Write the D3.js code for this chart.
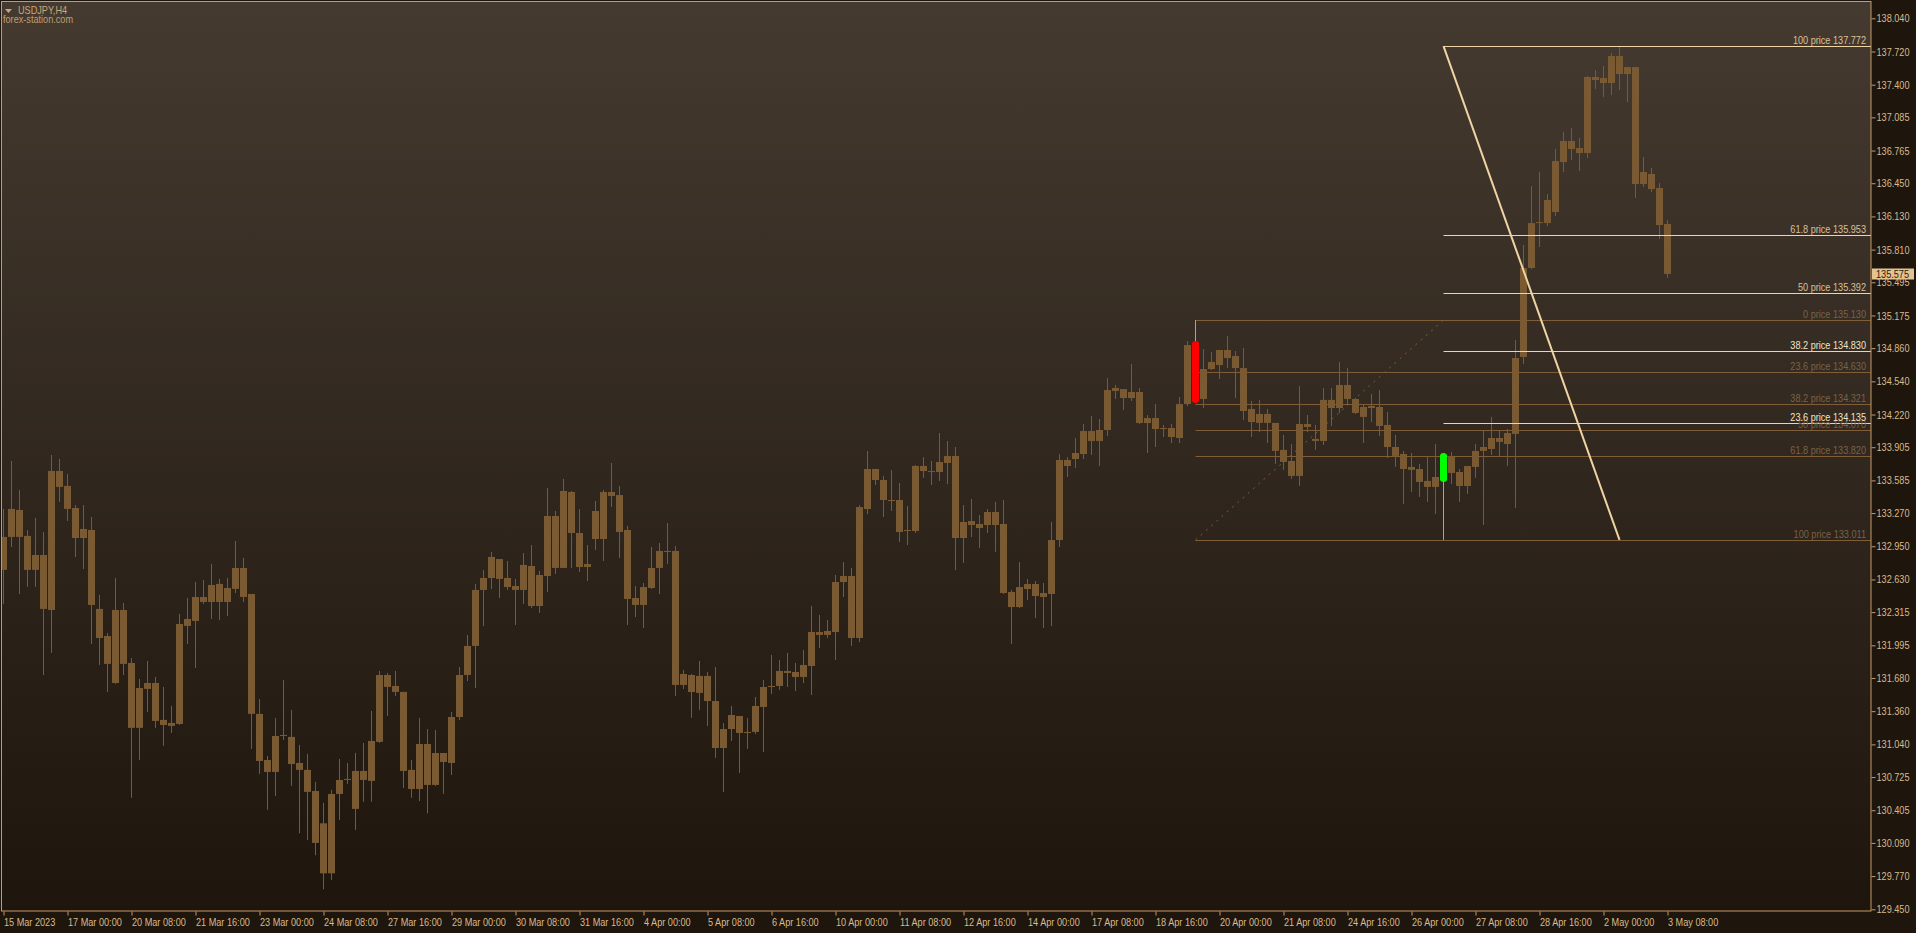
<!DOCTYPE html>
<html>
<head>
<meta charset="utf-8">
<script src="https://cdn.jsdelivr.net/npm/d3@7"></script>
<style>
html, body { margin: 0; padding: 0; background: #1e150d; overflow: hidden; }
svg { display: block; }
text { font-family: "Liberation Sans", Arial, sans-serif; font-size: 11px; }
</style>
</head>
<body>
<svg id="chart"></svg>
<script>
// bar time labels (one every 8 H4 bars)
var timeLabels = ["15 Mar 2023","17 Mar 00:00","20 Mar 08:00","21 Mar 16:00","23 Mar 00:00","24 Mar 08:00",
  "27 Mar 16:00","29 Mar 00:00","30 Mar 08:00","31 Mar 16:00","4 Apr 00:00","5 Apr 08:00","6 Apr 16:00",
  "10 Apr 00:00","11 Apr 08:00","12 Apr 16:00","14 Apr 00:00","17 Apr 08:00","18 Apr 16:00","20 Apr 00:00",
  "21 Apr 08:00","24 Apr 16:00","26 Apr 00:00","27 Apr 08:00","28 Apr 16:00","2 May 00:00","3 May 08:00"];
var barsPerLabel = 8;

var priceTicks = [138.040,137.720,137.400,137.085,136.765,136.450,136.130,135.810,135.495,135.175,134.860,
  134.540,134.220,133.905,133.585,133.270,132.950,132.630,132.315,131.995,131.680,131.360,131.040,130.725,
  130.405,130.090,129.770,129.450];

var opens = [132.722,133.040,133.300,133.050,132.722,132.866,132.336,133.676,133.532,133.319,133.030,133.107,
  132.346,132.085,131.632,132.336,131.825,131.199,131.575,131.632,131.276,131.218,131.237,132.182,132.230,
  132.461,132.413,132.587,132.413,132.539,132.741,132.490,131.334,130.890,130.774,131.121,131.112,130.861,
  130.794,130.591,130.279,129.797,130.562,130.697,130.418,130.784,130.688,131.064,131.709,131.603,131.546,
  130.794,130.610,131.044,130.649,130.957,130.861,131.304,131.709,131.989,132.529,132.644,132.827,132.644,
  132.567,132.529,132.760,132.374,132.663,133.242,132.741,133.473,133.078,132.750,133.020,133.020,133.473,
  133.444,133.107,132.451,132.384,132.548,132.741,132.905,132.905,131.613,131.709,131.536,131.700,131.458,
  131.005,131.188,131.314,131.150,131.160,131.401,131.593,131.603,131.748,131.738,131.690,131.796,132.124,
  132.095,132.123,132.605,132.663,132.066,133.309,133.695,133.589,133.396,133.396,133.097,133.097,133.724,
  133.675,133.666,133.753,133.820,133.030,133.193,133.165,133.155,133.280,133.165,132.509,132.364,132.538,
  132.586,132.499,132.490,133.010,133.782,133.791,133.839,134.061,133.965,134.071,134.447,134.466,134.379,
  134.437,134.138,134.186,134.080,134.090,133.994,134.321,134.909,134.370,134.659,134.697,134.842,134.784,
  134.668,134.274,134.139,134.226,134.139,133.879,133.772,133.628,134.129,133.985,133.965,134.361,134.283,
  134.505,134.370,134.293,134.283,134.293,134.120,133.907,133.840,133.715,133.695,133.580,133.522,133.589,
  133.821,133.666,133.531,133.715,133.869,133.888,133.994,133.936,134.033,134.775,135.633,136.066,136.066,
  136.172,136.654,136.857,136.789,136.741,137.474,137.464,137.416,137.676,137.503,137.570,136.442,136.539,
  136.404,136.057];
var highs = [133.310,133.773,133.493,133.107,133.223,133.088,133.830,133.792,133.647,133.348,133.348,133.233,
  132.481,132.114,132.645,132.404,131.873,131.671,131.844,131.690,131.594,131.411,132.298,132.452,132.606,
  132.625,132.780,132.635,132.645,133.001,132.837,132.490,131.478,130.929,131.295,131.661,131.372,131.035,
  130.948,130.678,130.476,130.601,130.900,130.861,130.958,131.054,131.362,131.748,131.729,131.748,131.546,
  130.890,131.295,131.188,131.179,130.957,131.352,131.786,132.095,132.586,132.721,132.895,132.827,132.808,
  132.635,132.885,132.962,132.712,133.512,133.290,133.599,133.483,133.309,132.962,133.387,133.493,133.753,
  133.531,133.146,132.567,132.596,132.943,132.982,133.174,132.953,131.757,131.719,131.844,131.738,131.786,
  131.246,131.410,131.314,131.295,131.497,131.661,131.902,131.854,131.921,131.825,131.950,132.374,132.288,
  132.239,132.673,132.798,132.740,133.348,133.868,133.695,133.627,133.685,133.560,133.338,133.733,133.810,
  133.772,134.042,133.965,133.907,133.348,133.406,133.251,133.309,133.377,133.396,132.528,132.798,132.634,
  132.615,132.596,133.184,133.839,133.810,133.994,134.129,134.206,134.177,134.572,134.505,134.466,134.707,
  134.476,134.215,134.321,134.119,134.129,134.389,134.929,135.130,134.852,134.823,134.842,134.977,134.832,
  134.861,134.351,134.361,134.274,134.139,134.023,133.936,134.495,134.216,134.120,134.476,134.476,134.727,
  134.669,134.380,134.312,134.418,134.457,134.245,134.023,133.869,133.850,133.744,133.811,133.936,133.850,
  133.859,133.695,133.724,133.936,134.062,134.197,134.062,134.081,134.939,135.855,136.423,136.558,136.346,
  136.780,136.944,136.982,136.886,137.484,137.541,137.580,137.705,137.772,137.570,137.570,136.703,136.597,
  136.452,136.095];
var lows = [132.394,132.943,132.490,132.558,132.558,131.709,131.922,133.377,133.194,132.847,132.731,132.008,
  131.806,131.546,131.623,131.709,130.524,130.890,131.353,131.199,131.025,131.150,131.227,132.008,131.777,
  132.394,132.249,132.240,132.278,132.500,132.413,130.996,130.755,130.408,130.543,131.083,130.639,130.183,
  130.119,129.971,129.643,129.733,130.312,130.659,130.215,130.485,130.488,131.054,131.314,131.507,130.620,
  130.524,130.494,130.375,130.639,130.562,130.745,131.275,131.651,131.584,132.181,132.538,132.451,132.529,
  132.191,132.394,132.355,132.307,132.509,132.683,132.741,132.741,132.702,132.615,132.914,132.808,133.329,
  132.837,132.191,132.268,132.162,132.538,132.490,132.779,131.507,131.574,131.295,131.372,131.217,130.909,
  130.581,131.073,130.764,130.996,131.140,130.967,131.526,131.565,131.593,131.555,131.632,131.516,131.969,
  132.066,131.853,132.461,131.988,132.027,133.261,133.541,133.232,133.290,132.991,132.962,133.078,133.608,
  133.541,133.579,133.550,132.721,132.789,133.039,132.933,133.078,132.895,132.490,132.008,132.355,132.432,
  132.258,132.162,132.181,132.943,133.618,133.704,133.791,133.830,133.724,134.013,134.370,134.264,134.350,
  134.129,133.849,133.907,134.003,133.945,133.945,134.302,134.330,134.283,134.649,134.562,134.668,134.379,
  134.167,134.004,134.052,133.946,133.744,133.686,133.599,133.531,134.052,133.879,133.927,134.110,134.235,
  134.322,134.226,133.946,134.148,134.013,133.801,133.715,133.358,133.474,133.425,133.377,133.262,133.011,
  133.551,133.377,133.454,133.609,133.155,133.830,133.821,133.724,133.319,134.708,135.620,135.835,136.037,
  136.134,136.558,136.674,136.568,136.693,137.358,137.281,137.300,137.349,137.233,136.307,136.413,136.365,
  135.912,135.536];
var closes = [133.040,133.310,133.040,132.722,132.866,132.346,133.676,133.522,133.310,133.030,133.117,132.384,
  132.066,131.816,132.336,131.816,131.199,131.584,131.632,131.266,131.227,131.247,132.201,132.249,132.461,
  132.413,132.577,132.413,132.548,132.741,132.461,131.334,130.880,130.774,131.121,131.131,130.851,130.794,
  130.582,130.090,129.797,130.562,130.697,130.707,130.784,130.697,131.073,131.709,131.594,131.546,130.784,
  130.610,131.044,130.649,130.957,130.870,131.304,131.709,131.989,132.529,132.644,132.847,132.635,132.557,
  132.529,132.770,132.374,132.673,133.242,132.741,133.483,133.078,132.750,132.779,133.290,133.473,133.435,
  133.088,132.442,132.384,132.557,132.741,132.905,132.895,131.613,131.719,131.545,131.700,131.458,131.005,
  131.188,131.323,131.150,131.160,131.410,131.593,131.603,131.748,131.728,131.690,131.805,132.124,132.095,
  132.133,132.605,132.663,132.066,133.328,133.695,133.589,133.396,133.386,133.087,133.107,133.724,133.675,
  133.666,133.762,133.820,133.030,133.184,133.155,133.126,133.280,133.155,132.499,132.364,132.557,132.586,
  132.470,132.461,133.010,133.782,133.724,133.849,134.061,133.965,134.071,134.456,134.476,134.379,134.437,
  134.138,134.186,134.080,134.090,134.003,134.321,134.890,134.350,134.659,134.726,134.842,134.765,134.668,
  134.254,134.148,134.226,134.139,133.869,133.763,133.628,134.129,134.100,133.965,134.361,134.283,134.505,
  134.370,134.235,134.197,134.303,134.110,133.907,133.821,133.695,133.686,133.570,133.522,133.618,133.830,
  133.657,133.531,133.724,133.869,133.907,133.994,133.956,134.042,134.765,135.633,136.066,136.076,136.288,
  136.664,136.857,136.780,136.741,137.474,137.445,137.416,137.676,137.503,137.570,136.442,136.558,136.394,
  136.047,135.575];

var lastPrice = 135.575;

// fibo #1 (dim): drawn from bar 149 (100 level) to bar 180 (0 level)
var fib1Bars = [149, 180];
var fib1Levels = [0, 23.6, 38.2, 50, 61.8, 100];
var fib1Prices = [135.130, 134.630, 134.321, 134.070, 133.820, 133.011];

// fibo #2 (bright): from bar 180 at the high to bar 202 at the low
var fib2Bars = [180, 202];
var fib2Levels = [100, 61.8, 50, 38.2, 23.6];
var fib2Prices = [137.772, 135.953, 135.392, 134.830, 134.135];
var fib2Low = 133.011;

var redBar = 149, greenBar = 180;

var W = 1916, H = 933;
var plot = {left: 2, top: 2, right: 1871, bottom: 911};

var svg = d3.select("#chart").attr("width", W).attr("height", H);

var defs = svg.append("defs");
var grad = defs.append("linearGradient").attr("id", "bg")
  .attr("x1", 0).attr("y1", 0).attr("x2", 0).attr("y2", 1);
grad.append("stop").attr("offset", "0%").attr("stop-color", "#443a30");
grad.append("stop").attr("offset", "100%").attr("stop-color", "#1e150d");
defs.append("clipPath").attr("id", "clip").append("rect")
  .attr("x", plot.left).attr("y", plot.top)
  .attr("width", plot.right - plot.left).attr("height", plot.bottom - plot.top);

svg.append("rect").attr("width", W).attr("height", H).attr("fill", "#1e150d");
svg.append("rect")
  .attr("x", 1).attr("y", 1)
  .attr("width", plot.right - 1).attr("height", plot.bottom - 1)
  .attr("fill", "url(#bg)");

var x = d3.scaleLinear().domain([0, opens.length - 1]).range([3.5, 3.5 + 8 * (opens.length - 1)]);
var y = d3.scaleLinear().domain([129.450, 138.040]).range([909.3, 18.3]);

var g = svg.append("g").attr("clip-path", "url(#clip)");

// fibo #1 levels
var fibDim = "#7f5e37";
fib1Prices.forEach(function(p, i) {
  var yy = Math.round(y(p)) + 0.5;
  g.append("line")
    .attr("x1", x(fib1Bars[0])).attr("x2", plot.right)
    .attr("y1", yy).attr("y2", yy)
    .attr("stroke", fibDim).attr("stroke-width", 1);
});
g.append("line")
  .attr("x1", x(fib1Bars[0])).attr("y1", y(fib1Prices[5]))
  .attr("x2", x(fib1Bars[1])).attr("y2", y(fib1Prices[0]))
  .attr("stroke", fibDim).attr("stroke-width", 1)
  .attr("stroke-dasharray", "2,5");

// candles
var candleColor = "#7a5a33";
var idx = d3.range(opens.length);
var candles = g.selectAll(".candle").data(idx).enter().append("g").attr("class", "candle");

candles.append("line")
  .attr("x1", function(i) { return x(i); })
  .attr("x2", function(i) { return x(i); })
  .attr("y1", function(i) { return y(highs[i]); })
  .attr("y2", function(i) { return y(lows[i]); })
  .attr("stroke", function(i) { return (i === redBar || i === greenBar) ? "#a4a4a4" : candleColor; })
  .attr("stroke-width", 1);

candles.append("rect")
  .attr("x", function(i) { return x(i) - 3.5; })
  .attr("width", 7)
  .attr("y", function(i) { return y(Math.max(opens[i], closes[i])); })
  .attr("height", function(i) {
    return Math.max(1, y(Math.min(opens[i], closes[i])) - y(Math.max(opens[i], closes[i])));
  })
  .attr("fill", candleColor);

// highlighted candles
[[redBar, "#ff0000"], [greenBar, "#00ff00"]].forEach(function(h) {
  var i = h[0];
  var top = y(Math.max(opens[i], closes[i])), bot = y(Math.min(opens[i], closes[i]));
  g.append("rect")
    .attr("x", x(i) - 3.5).attr("width", 7)
    .attr("y", top - 2).attr("height", bot - top + 4)
    .attr("rx", 3.5).attr("ry", 3)
    .attr("fill", h[1]);
});

// fibo #2
var fibBright = "#efd4a4";
fib2Prices.forEach(function(p) {
  var yy = Math.round(y(p)) + 0.5;
  g.append("line")
    .attr("x1", x(fib2Bars[0])).attr("x2", plot.right)
    .attr("y1", yy).attr("y2", yy)
    .attr("stroke", fibBright).attr("stroke-width", 1);
});
g.append("line")
  .attr("x1", x(fib2Bars[0])).attr("y1", y(fib2Prices[0]))
  .attr("x2", x(fib2Bars[1])).attr("y2", y(fib2Low))
  .attr("stroke", fibBright).attr("stroke-width", 2);

// level labels
var labelX = 1866;
g.selectAll(".fib1lbl").data(fib1Levels).enter().append("text")
  .attr("x", labelX)
  .attr("y", function(d, i) { return Math.round(y(fib1Prices[i])) - 2; })
  .attr("text-anchor", "end")
  .attr("fill", "#7a6248")
  .text(function(d, i) { return d + " price " + fib1Prices[i].toFixed(3); });

g.selectAll(".fib2lbl").data(fib2Levels).enter().append("text")
  .attr("x", labelX)
  .attr("y", function(d, i) { return Math.round(y(fib2Prices[i])) - 2; })
  .attr("text-anchor", "end")
  .attr("fill", function(d) { return d < 40 ? "#f2e4c8" : "#dcc097"; })
  .text(function(d, i) { return d + " price " + fib2Prices[i].toFixed(3); });

// frame
var frame = "#c69c66";
svg.append("rect")
  .attr("x", 1.5).attr("y", 1.5)
  .attr("width", plot.right - 1.5).attr("height", plot.bottom - 1.5)
  .attr("fill", "none").attr("stroke", frame).attr("stroke-width", 1);

// price axis
var yAxis = d3.axisRight(y).tickValues(priceTicks).tickSize(4).tickPadding(1)
  .tickFormat(d3.format(".3f"));
var ya = svg.append("g").attr("transform", "translate(" + (plot.right + 0.5) + ",0)").call(yAxis);
ya.select(".domain").remove();
ya.selectAll(".tick line").attr("stroke", frame);
ya.selectAll(".tick text").attr("fill", "#d8bb8c").style("font-size", "11px")
  .style("font-family", "'Liberation Sans', Arial, sans-serif");

// current price marker
var cy = Math.round(y(lastPrice));
svg.append("rect").attr("x", 1872).attr("y", cy - 5.5).attr("width", 42).attr("height", 11)
  .attr("fill", "#e4c38f");
svg.append("text").attr("x", 1876).attr("y", cy + 4).attr("fill", "#2a1c0e")
  .text(lastPrice.toFixed(3));

// time axis
var tickBars = timeLabels.map(function(d, i) { return i * barsPerLabel; });
var xAxis = d3.axisBottom(x).tickValues(tickBars).tickSize(4).tickPadding(3)
  .tickFormat(function(d, i) { return timeLabels[i]; });
var xa = svg.append("g").attr("transform", "translate(0," + (plot.bottom + 0.5) + ")").call(xAxis);
xa.select(".domain").remove();
xa.selectAll(".tick line").attr("stroke", frame);
xa.selectAll(".tick text").attr("fill", "#d8bb8c").attr("text-anchor", "start").attr("dx", 0)
  .style("font-size", "11px")
  .style("font-family", "'Liberation Sans', Arial, sans-serif");

// title
svg.append("path").attr("d", "M5,9 L12,9 L8.5,13 Z").attr("fill", "#c9a877");
svg.append("text").attr("x", 18).attr("y", 14).attr("fill", "#c9a877").text("USDJPY,H4");
svg.append("text").attr("x", 3).attr("y", 23).attr("fill", "#bf9e72").text("forex-station.com");

// narrow the glyphs like the terminal's condensed font
svg.selectAll("text").each(function() {
  var w = this.getComputedTextLength();
  d3.select(this).attr("textLength", w * 0.83).attr("lengthAdjust", "spacingAndGlyphs");
});
</script>
</body>
</html>
